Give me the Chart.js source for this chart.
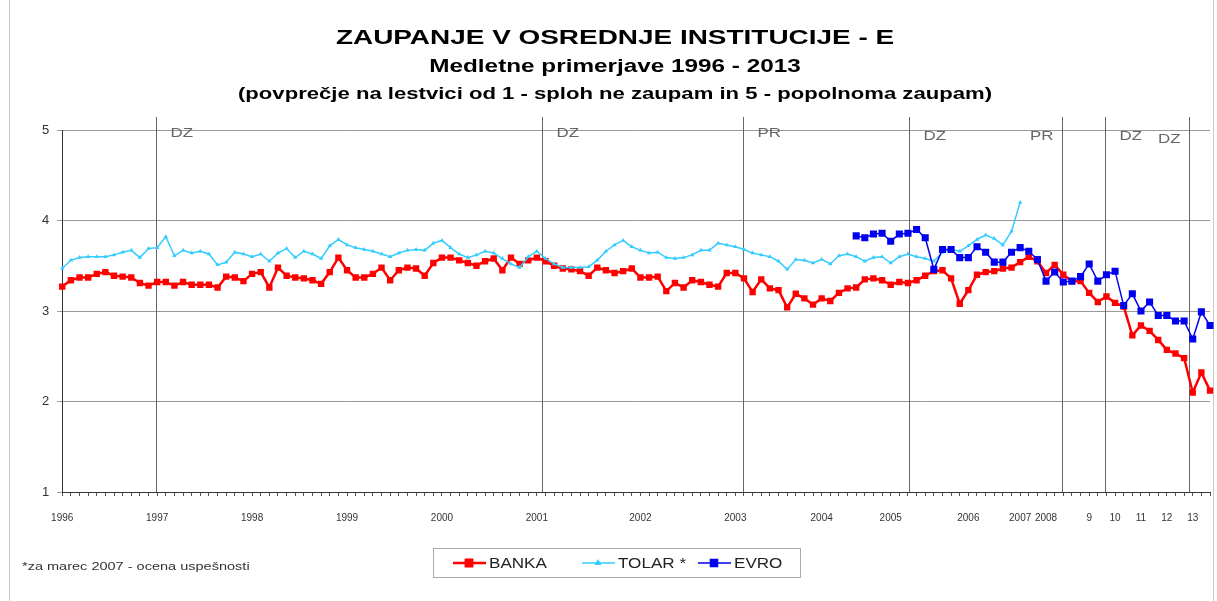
<!DOCTYPE html>
<html>
<head>
<meta charset="utf-8">
<script src="https://cdn.jsdelivr.net/npm/chart.js@4"></script>
<style>
  html, body { margin: 0; padding: 0; background: #fff; }
</style>
</head>
<body>
<canvas id="myChart" width="1217" height="601"></canvas>
<script>
const FONT = "'Liberation Sans', Arial, sans-serif";

// one point per survey, x axis labels only at the start of each year
const pointCount = 134;
const yearLabels = ["1996", "1997", "1998", "1999", "2000", "2001", "2002", "2003", "2004", "2005",
  "2006", "2007", "2008", "9", "10", "11", "12", "13"];
const yearAt = [0, 11, 22, 33, 44, 55, 67, 78, 88, 96, 105, 111, 114, 119, 122, 125, 128, 131];

// elections (DZ - parliament, PR - president)
const electionLabels = ["DZ", "DZ", "PR", "DZ", "PR", "DZ", "DZ"];
const electionAt = [10.9, 55.6, 78.9, 98.1, 115.9, 120.8, 130.6];

const banka = [
  3.27, 3.34, 3.37, 3.37, 3.41, 3.43, 3.39, 3.38, 3.37, 3.31,
  3.28, 3.32, 3.32, 3.28, 3.32, 3.29, 3.29, 3.29, 3.26, 3.38,
  3.37, 3.33, 3.41, 3.43, 3.26, 3.48, 3.39, 3.37, 3.36, 3.34,
  3.30, 3.43, 3.59, 3.45, 3.37, 3.37, 3.41, 3.48, 3.34, 3.45,
  3.48, 3.47, 3.39, 3.53, 3.59, 3.59, 3.56, 3.53, 3.50, 3.55,
  3.58, 3.45, 3.59, 3.52, 3.56, 3.59, 3.55, 3.50, 3.47, 3.46,
  3.44, 3.39, 3.48, 3.45, 3.42, 3.44, 3.47, 3.37, 3.37, 3.38,
  3.22, 3.31, 3.26, 3.34, 3.32, 3.29, 3.27, 3.42, 3.42, 3.36,
  3.21, 3.35, 3.25, 3.23, 3.04, 3.19, 3.14, 3.07, 3.14, 3.11,
  3.20, 3.25, 3.26, 3.35, 3.36, 3.34, 3.29, 3.32, 3.31, 3.34,
  3.39, 3.44, 3.45, 3.36, 3.08, 3.23, 3.40, 3.43, 3.44, 3.47,
  3.48, 3.54, 3.60, 3.55, 3.42, 3.51, 3.40, 3.33, 3.33, 3.20,
  3.10, 3.16, 3.09, 3.05, 2.73, 2.84, 2.78, 2.68, 2.57, 2.53,
  2.48, 2.10, 2.32, 2.12
];

const tolar = [
  3.47, 3.56, 3.59, 3.60, 3.60, 3.60, 3.62, 3.65, 3.67, 3.59,
  3.69, 3.70, 3.82, 3.61, 3.67, 3.64, 3.66, 3.63, 3.51, 3.54,
  3.65, 3.63, 3.60, 3.63, 3.55, 3.64, 3.69, 3.59, 3.66, 3.63,
  3.58, 3.72, 3.79, 3.73, 3.70, 3.68, 3.66, 3.63, 3.60, 3.64,
  3.67, 3.68, 3.67, 3.75, 3.78, 3.70, 3.63, 3.59, 3.62, 3.66,
  3.64, 3.58, 3.52, 3.48, 3.60, 3.66, 3.58, 3.52, 3.48, 3.48,
  3.48, 3.49, 3.56, 3.66, 3.73, 3.78, 3.71, 3.67, 3.64, 3.65,
  3.59, 3.58, 3.59, 3.62, 3.67, 3.67, 3.75, 3.73, 3.71, 3.68,
  3.64, 3.62, 3.60, 3.55, 3.46, 3.57, 3.56, 3.53, 3.57, 3.52,
  3.61, 3.63, 3.60, 3.55, 3.59, 3.60, 3.53, 3.60, 3.63, 3.60,
  3.58, 3.55, 3.65, 3.68, 3.66, 3.72, 3.79, 3.84, 3.80, 3.73,
  3.88, 4.20
];

// euro was asked from mid 2004 on
const evroStart = 92;
const evroValues = [
  3.83, 3.81, 3.85, 3.86, 3.77, 3.85, 3.86, 3.90, 3.81, 3.46,
  3.68, 3.68, 3.59, 3.59, 3.71, 3.65, 3.54, 3.54, 3.65, 3.70,
  3.66, 3.57, 3.33, 3.43, 3.32, 3.33, 3.38, 3.52, 3.33, 3.40,
  3.44, 3.06, 3.19, 3.00, 3.10, 2.95, 2.95, 2.89, 2.89, 2.69,
  2.99, 2.84
];
const evro = new Array(evroStart).fill(null).concat(evroValues);

const titleLines = [
  "ZAUPANJE V OSREDNJE INSTITUCIJE - E",
  "Medletne primerjave 1996 - 2013",
  "(povprečje na lestvici od 1 - sploh ne zaupam in 5 - popolnoma zaupam)"
];
const footnote = "*za marec 2007 - ocena uspešnosti";

const categories = [];
for (let i = 0; i < pointCount; i++) {
  const k = yearAt.indexOf(i);
  categories.push(k >= 0 ? yearLabels[k] : "");
}

// the original picture is a bit wider than it is tall, so text is stretched sideways
const wideText = (ctx, text, x, y, sx) => {
  ctx.save();
  ctx.translate(x, y);
  ctx.scale(sx, 1);
  ctx.fillText(text, 0, 0);
  ctx.restore();
};

const extras = {
  id: "extras",
  beforeDraw(chart) {
    const ctx = chart.ctx;
    ctx.save();
    ctx.fillStyle = "#fff";
    ctx.fillRect(0, 0, chart.width, chart.height);
    ctx.strokeStyle = "#c8c8c8";
    ctx.lineWidth = 1;
    ctx.strokeRect(9.5, -2, 1204, 620);

    ctx.fillStyle = "#000";
    ctx.textAlign = "center";
    ctx.textBaseline = "middle";
    ctx.font = "bold 21px " + FONT;
    wideText(ctx, titleLines[0], 615, 38, 1.33);
    ctx.font = "bold 18px " + FONT;
    wideText(ctx, titleLines[1], 615, 67, 1.35);
    ctx.font = "bold 17px " + FONT;
    wideText(ctx, titleLines[2], 615, 94, 1.3);
    ctx.restore();
  },
  beforeDatasetsDraw(chart) {
    const ctx = chart.ctx;
    const x = chart.scales.x;
    const area = chart.chartArea;
    ctx.save();
    ctx.strokeStyle = "#666";
    ctx.lineWidth = 1;
    ctx.fillStyle = "#666";
    ctx.font = "13px " + FONT;
    ctx.textBaseline = "middle";
    electionAt.forEach((pos, i) => {
      const px = Math.round(x.getPixelForValue(pos)) + 0.5;
      ctx.beginPath();
      ctx.moveTo(px, area.top - 13);
      ctx.lineTo(px, area.bottom);
      ctx.stroke();
      const left = i === 4 || i === 6;
      ctx.textAlign = left ? "right" : "left";
      const ty = i === 6 ? area.top + 9 : (i >= 3 ? area.top + 6 : area.top + 3);
      wideText(ctx, electionLabels[i], left ? px - 9 : px + 14, ty, 1.3);
    });
    ctx.restore();
  },
  afterDraw(chart) {
    const ctx = chart.ctx;
    ctx.save();
    // legend box
    ctx.strokeStyle = "#aaa";
    ctx.lineWidth = 1;
    ctx.strokeRect(433.5, 548.5, 367, 29);
    ctx.font = "14px " + FONT;
    ctx.textBaseline = "middle";
    ctx.textAlign = "left";
    const starts = [453, 582, 698];
    chart.data.datasets.forEach((ds, i) => {
      const x0 = starts[i];
      const y = 563;
      ctx.strokeStyle = ds.borderColor;
      ctx.lineWidth = ds.borderWidth;
      ctx.beginPath();
      ctx.moveTo(x0, y);
      ctx.lineTo(x0 + 33, y);
      ctx.stroke();
      ctx.fillStyle = ds.pointBackgroundColor;
      ctx.strokeStyle = ds.borderColor;
      Chart.helpers.drawPoint(ctx, {
        pointStyle: ds.pointStyle, radius: ds.pointRadius, rotation: 0, borderWidth: 1
      }, x0 + 16, y);
      ctx.fillStyle = "#222";
      wideText(ctx, ds.label, x0 + 36, y + 1, 1.22);
    });
    ctx.font = "11px " + FONT;
    ctx.fillStyle = "#333";
    wideText(ctx, footnote, 22, 567, 1.32);
    ctx.restore();
  }
};

const ctx = document.getElementById("myChart").getContext("2d");
const myChart = new Chart(ctx, {
  type: "line",
  data: {
    labels: categories,
    datasets: [
      {
        label: "BANKA",
        data: banka,
        borderColor: "#ff0000",
        backgroundColor: "#ff0000",
        pointBackgroundColor: "#ff0000",
        borderWidth: 2.5,
        pointStyle: "rect",
        pointRadius: 4.5,
        pointBorderWidth: 0,
        order: 2
      },
      {
        label: "TOLAR *",
        data: tolar,
        borderColor: "#33ccff",
        backgroundColor: "#33ccff",
        pointBackgroundColor: "#33ccff",
        borderWidth: 1.5,
        pointStyle: "triangle",
        pointRadius: 2.5,
        pointBorderWidth: 0,
        order: 1
      },
      {
        label: "EVRO",
        data: evro,
        borderColor: "#0000ee",
        backgroundColor: "#0000ee",
        pointBackgroundColor: "#0000ee",
        borderWidth: 1.5,
        pointStyle: "rect",
        pointRadius: 5,
        pointBorderWidth: 0,
        order: 0
      }
    ]
  },
  options: {
    responsive: false,
    animation: false,
    layout: { padding: { top: 130, left: 34, right: 7, bottom: 61 } },
    plugins: {
      legend: { display: false },
      tooltip: { enabled: false }
    },
    scales: {
      x: {
        offset: false,
        afterFit: (scale) => { scale.paddingRight = 0; },
        grid: { drawOnChartArea: false, color: "#555", tickLength: 4 },
        border: { color: "#333", width: 1 },
        ticks: {
          autoSkip: false, maxRotation: 0, minRotation: 0, padding: 16,
          color: "#333", font: { family: FONT, size: 10 }
        }
      },
      y: {
        min: 1,
        max: 5,
        grid: { color: "#999", tickLength: 5 },
        border: { color: "#333", width: 1 },
        ticks: {
          stepSize: 1, padding: 8,
          color: "#333", font: { family: FONT, size: 13 }
        }
      }
    }
  },
  plugins: [extras]
});
</script>
</body>
</html>
